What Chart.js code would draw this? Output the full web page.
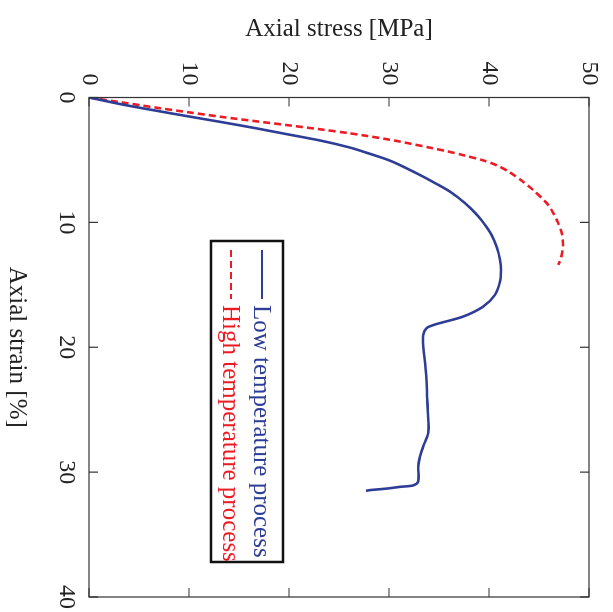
<!DOCTYPE html>
<html>
<head>
<meta charset="utf-8">
<script src="https://cdn.jsdelivr.net/npm/chart.js@4/dist/chart.umd.min.js"></script>
<style>
  html, body { margin: 0; padding: 0; background: #fff; }
  #page { position: relative; width: 613px; height: 612px; overflow: hidden; background: #fff; }
  #rot { position: absolute; left: 0; top: 0; width: 612px; height: 613px;
         transform-origin: 0 0; transform: translate(613px, 0) rotate(90deg); }
</style>
</head>
<body>
<div id="page"><div id="rot"><canvas id="c" width="612" height="613"></canvas></div></div>
<script>
// ---- data ----
const strainTicks = [0, 10, 20, 30, 40];
const stressTicks = [0, 10, 20, 30, 40, 50];
const seriesNames = ["Low temperature process", "High temperature process"];

const lowStrain = [0, 0.56, 1.05, 1.52, 1.98, 2.46, 2.97, 3.48, 3.99, 4.34, 5.06, 5.94, 6.78, 7.54, 8.46, 9.40, 10.2, 11.0, 12.04, 13.0, 13.8, 14.74, 15.8, 16.74, 17.54, 18.14, 18.46, 19.0, 19.94, 22.06, 24.2, 25.8, 26.86, 27.94, 28.74, 29.54, 30.74, 31.06, 31.18, 31.32, 31.44, 31.5];
const lowStress = [0, 3.33, 6.67, 10.0, 13.33, 16.67, 20.0, 23.33, 26.0, 27.43, 30.1, 32.43, 34.43, 36.1, 37.6, 38.8, 39.6, 40.25, 40.8, 41.1, 41.2, 41.1, 40.6, 39.43, 37.43, 34.77, 33.77, 33.43, 33.43, 33.7, 33.83, 33.93, 33.93, 33.43, 33.1, 32.93, 32.93, 32.43, 31.1, 29.77, 28.1, 27.7];

const highStrain = [0, 0.40, 0.81, 1.19, 1.56, 1.90, 2.23, 2.57, 2.86, 3.03, 3.48, 4.02, 4.30, 4.62, 5.04, 5.44, 6.0, 6.68, 7.4, 8.46, 9.08, 9.8, 10.86, 11.88, 12.84, 13.4];
const highStress = [0, 3.33, 6.67, 10.0, 13.33, 16.67, 20.0, 23.33, 26.0, 27.43, 30.77, 34.1, 35.77, 37.43, 39.43, 40.8, 42.1, 43.3, 44.4, 45.77, 46.3, 46.77, 47.27, 47.4, 47.2, 46.93];

const toPts = (xs, ys) => xs.map((x, i) => ({ x: x, y: ys[i] }));

Chart.defaults.font.family = "'Liberation Serif', 'Times New Roman', serif";
Chart.defaults.color = "#222";

// frame + inward ticks (MATLAB style) drawn from the library's scales
const framePlugin = {
  id: 'frame',
  afterDatasetsDraw(chart) {
    const { ctx, chartArea: a, scales } = chart;
    ctx.save();
    ctx.strokeStyle = "#333";
    ctx.lineWidth = 1.2;
    ctx.strokeRect(a.left, a.top, a.right - a.left, a.bottom - a.top);
    const L = 9;
    ctx.beginPath();
    strainTicks.forEach(v => {
      const x = scales.x.getPixelForValue(v);
      ctx.moveTo(x, a.bottom); ctx.lineTo(x, a.bottom - L);
      ctx.moveTo(x, a.top); ctx.lineTo(x, a.top + L);
    });
    stressTicks.forEach(v => {
      const y = scales.y.getPixelForValue(v);
      ctx.moveTo(a.left, y); ctx.lineTo(a.left + L, y);
      ctx.moveTo(a.right, y); ctx.lineTo(a.right - L, y);
    });
    ctx.stroke();
    ctx.restore();
  },
  afterDraw(chart) {
    // legend box
    const { ctx } = chart;
    const box = { l: 241, t: 330, r: 562, b: 402 };
    ctx.save();
    ctx.fillStyle = "#fff";
    ctx.fillRect(box.l, box.t, box.r - box.l, box.b - box.t);
    ctx.strokeStyle = "#111";
    ctx.lineWidth = 2.5;
    ctx.strokeRect(box.l, box.t, box.r - box.l, box.b - box.t);
    ctx.font = "25px 'Liberation Serif'";
    ctx.textBaseline = "middle";
    const rows = [351, 382];
    chart.data.datasets.forEach((ds, i) => {
      const y = rows[i];
      ctx.strokeStyle = ds.borderColor;
      ctx.lineWidth = 2.2;
      ctx.setLineDash(ds.borderDash || []);
      ctx.beginPath();
      ctx.moveTo(250, y); ctx.lineTo(299, y);
      ctx.stroke();
      ctx.setLineDash([]);
      ctx.fillStyle = ds.borderColor;
      ctx.fillText(ds.label, 305, y + 1);
    });
    ctx.restore();
  }
};

new Chart(document.getElementById('c'), {
  type: 'scatter',
  data: {
    datasets: [
      { label: seriesNames[0], data: toPts(lowStrain, lowStress), showLine: true,
        borderColor: "#2e3d96", borderWidth: 2.6, pointRadius: 0, tension: 0.3, fill: false },
      { label: seriesNames[1], data: toPts(highStrain, highStress), showLine: true,
        borderColor: "#ec1c24", borderWidth: 2.6, borderDash: [7, 4], pointRadius: 0, tension: 0.3, fill: false }
    ]
  },
  options: {
    responsive: false,
    animation: false,
    devicePixelRatio: 1,
    layout: { padding: { left: 0, right: 15, top: 24, bottom: 0 } },
    plugins: { legend: { display: false }, tooltip: { enabled: false } },
    scales: {
      x: {
        type: 'linear', min: 0, max: 40,
        afterFit(s) { s.height = 89; s.paddingLeft = 0; s.paddingRight = 0; },
        afterBuildTicks(s) { s.ticks = strainTicks.map(v => ({ value: v })); },
        grid: { display: false, drawTicks: false }, border: { display: false },
        ticks: { padding: 8, font: { size: 24 }, color: "#222", maxRotation: 0 },
        title: { display: true, text: "Axial strain [%]", font: { size: 25 }, color: "#222", padding: { top: 2, bottom: 2 } }
      },
      y: {
        type: 'linear', min: 0, max: 50,
        afterFit(s) { s.width = 97.5; s.paddingTop = 0; s.paddingBottom = 0; },
        afterBuildTicks(s) { s.ticks = stressTicks.map(v => ({ value: v })); },
        grid: { display: false, drawTicks: false }, border: { display: false },
        ticks: { padding: 12, font: { size: 24 }, color: "#222" },
        title: { display: true, text: "Axial stress [MPa]", font: { size: 25 }, color: "#222", padding: { top: 14, bottom: 12 } }
      }
    }
  },
  plugins: [framePlugin]
});
</script>
</body>
</html>
